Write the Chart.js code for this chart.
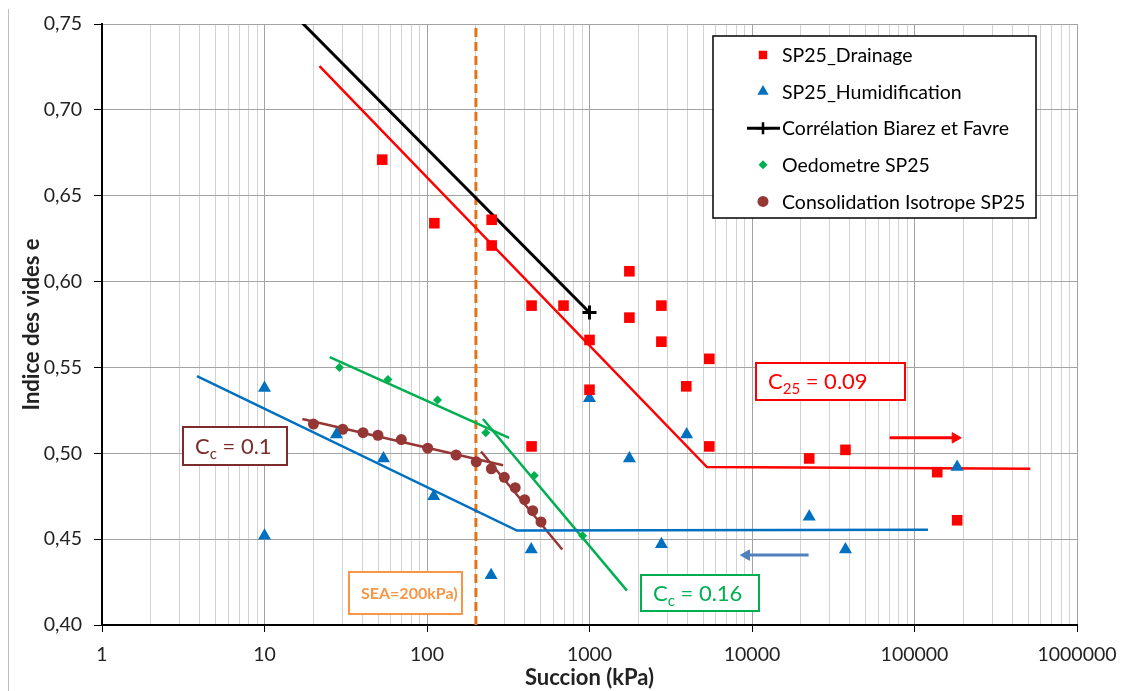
<!DOCTYPE html>
<html lang="fr">
<head>
<meta charset="utf-8">
<title>Indice des vides e - Succion (kPa)</title>
<script src="https://cdn.jsdelivr.net/npm/chart.js@4.4.1/dist/chart.umd.min.js"></script>
<style>
    html, body { margin: 0; padding: 0; background: #fff; }
    #wrap { position: relative; width: 1138px; height: 691px; }
    #wrap::before { content: ''; position: absolute; left: 8px; top: 9px; bottom: 0; border-left: 1px solid #bdbdbd; }
    canvas { position: relative; }
</style>
</head>
<body>
<div id="wrap"><canvas id="chart" width="1138" height="691"></canvas></div>
<script>
// Données (succion en kPa, indice des vides e)
const drainageSuction = [53, 111, 250, 250, 440, 692, 1000, 1000, 440, 1760, 1760, 2770, 2770, 3940, 5460, 5460, 22500, 37600, 138000, 183000];
const drainageE = [0.671, 0.634, 0.636, 0.621, 0.586, 0.586, 0.566, 0.537, 0.504, 0.606, 0.579, 0.586, 0.565, 0.539, 0.555, 0.504, 0.497, 0.502, 0.489, 0.461];

const humidSuction = [10, 10, 27.7, 54, 110, 248, 438, 1000, 1760, 2770, 3960, 22500, 37600, 183000];
const humidE = [0.538, 0.452, 0.511, 0.497, 0.475, 0.429, 0.444, 0.532, 0.497, 0.447, 0.511, 0.463, 0.444, 0.492];

const biarezSuction = [15, 1000];
const biarezE = [0.756, 0.582];

const oedoSuction = [28.9, 57.5, 116, 230, 457, 907];
const oedoE = [0.550, 0.543, 0.531, 0.512, 0.487, 0.452];

const consoSuction = [20, 30.3, 40.4, 49.9, 69.5, 101, 151, 201, 249, 299, 349, 399, 447, 503];
const consoE = [0.517, 0.514, 0.512, 0.5105, 0.508, 0.503, 0.499, 0.495, 0.491, 0.486, 0.480, 0.473, 0.4666, 0.460];

// Droites d'ajustement
const drainageFitSuction = [21.8, 5280, 516000];
const drainageFitE = [0.7255, 0.492, 0.491];
const humidFitSuction = [3.84, 358, 121000];
const humidFitE = [0.545, 0.455, 0.4555];
const oedoFit1Suction = [25.2, 320];
const oedoFit1E = [0.556, 0.509];
const oedoFit2Suction = [221, 1700];
const oedoFit2E = [0.520, 0.420];
const consoFit1Suction = [17.1, 294];
const consoFit1E = [0.520, 0.493];
const consoFit2Suction = [215, 680];
const consoFit2E = [0.501, 0.444];

// Succion d'entrée d'air et flèches
const seaSuction = [200, 200];
const seaE = [0.40, 0.75];
const redArrowSuction = [70300, 178000];
const redArrowE = [0.509, 0.509];
const blueArrowSuction = [9250, 22300];
const blueArrowE = [0.4407, 0.4407];

// Axes
const xTickLabels = ['1', '10', '100', '1000', '10000', '100000', '1000000'];
const yMin = 0.40, yMax = 0.75, yStep = 0.05;

const FONT = 'Lato, "Open Sans", sans-serif';
const colors = {
    red: '#ff0000',
    blue: '#0070c0',
    steel: '#4f81bd',
    green: '#00b050',
    brown: '#953735',
    brownDark: '#7b2d2d',
    orange: '#e3731b',
    orangeLight: '#f79646',
    black: '#000000'
};

function toPoints(xs, ys) {
    return xs.map((v, i) => ({ x: v, y: ys[i] }));
}

function isDecade(v) {
    const l = Math.log10(v);
    return Math.abs(l - Math.round(l)) < 1e-9;
}

function lineSet(label, xs, ys, color, width, extra) {
    return Object.assign({
        label: label,
        data: toPoints(xs, ys),
        showLine: true,
        borderColor: color,
        backgroundColor: color,
        borderWidth: width,
        pointRadius: 0,
        order: 2
    }, extra || {});
}

function markerSet(label, xs, ys, color, style, radius) {
    return {
        label: label,
        data: toPoints(xs, ys),
        showLine: false,
        pointStyle: style,
        pointRadius: radius,
        pointBackgroundColor: color,
        pointBorderColor: color,
        pointBorderWidth: 0,
        order: 0
    };
}

const datasets = [
    lineSet('fit-drainage', drainageFitSuction, drainageFitE, colors.red, 2.5),
    lineSet('fit-humid', humidFitSuction, humidFitE, colors.blue, 2.5),
    lineSet('fit-oedo-1', oedoFit1Suction, oedoFit1E, colors.green, 2.5),
    lineSet('fit-oedo-2', oedoFit2Suction, oedoFit2E, colors.green, 2.5),
    lineSet('fit-conso-1', consoFit1Suction, consoFit1E, colors.brown, 2.5),
    lineSet('fit-conso-2', consoFit2Suction, consoFit2E, colors.brown, 2.5),
    lineSet('SEA', seaSuction, seaE, colors.orange, 3, { borderDash: [9, 5], order: 3 }),
    lineSet('arrow-red', redArrowSuction, redArrowE, colors.red, 3, {
        pointStyle: 'triangle', pointRadius: [0, 6], pointRotation: [0, 90], pointBorderWidth: 1
    }),
    lineSet('arrow-blue', blueArrowSuction, blueArrowE, colors.steel, 3, {
        pointStyle: 'triangle', pointRadius: [6, 0], pointRotation: [-90, 0], pointBorderWidth: 1
    }),
    markerSet('SP25_Drainage', drainageSuction, drainageE, colors.red, 'rect', 7.5),
    markerSet('SP25_Humidification', humidSuction, humidE, colors.blue, 'triangle', 7.5),
    lineSet('Corrélation Biarez et Favre', biarezSuction, biarezE, colors.black, 3, {
        pointStyle: 'cross', pointRadius: [0, 7], pointBorderWidth: 3, order: 1
    }),
    markerSet('Oedometre SP25', oedoSuction, oedoE, colors.green, 'rectRot', 4.5),
    markerSet('Consolidation Isotrope SP25', consoSuction, consoE, colors.brown, 'circle', 5.5)
];

// Encadrés de texte (coin haut-gauche / bas-droit en coordonnées des axes)
const annotations = [
    { main: 'C', sub: 'c', rest: ' = 0.1', x: [3.16, 13.8], y: [0.5153, 0.4932], color: colors.brownDark, size: 22 },
    { main: 'SEA=200kPa)', sub: '', rest: '', x: [33.2, 165], y: [0.4308, 0.4064], color: colors.orangeLight, size: 16, bold: true },
    { main: 'C', sub: 'c', rest: ' = 0.16', x: [2075, 10980], y: [0.4291, 0.4081], color: colors.green, size: 22 },
    { main: 'C', sub: '25', rest: ' = 0.09', x: [10580, 87700], y: [0.5526, 0.531], color: colors.red, size: 22 }
];

// Légende
const legendItems = [
    { label: 'SP25_Drainage', style: 'rect', radius: 6, color: colors.red },
    { label: 'SP25_Humidification', style: 'triangle', radius: 6.5, color: colors.blue },
    { label: 'Corrélation Biarez et Favre', style: 'cross', radius: 6, color: colors.black, line: true },
    { label: 'Oedometre SP25', style: 'rectRot', radius: 4.5, color: colors.green },
    { label: 'Consolidation Isotrope SP25', style: 'circle', radius: 5.5, color: colors.brown }
];

function drawMarker(ctx, style, radius, x, y, width) {
    if (Chart.helpers && Chart.helpers.drawPoint) {
        Chart.helpers.drawPoint(ctx, { pointStyle: style, radius: radius, rotation: 0, borderWidth: width || 0 }, x, y);
    }
}

const overlayPlugin = {
    id: 'overlay',
    afterDatasetsDraw(chart) {
        const { ctx } = chart;
        const xs = chart.scales.x, ys = chart.scales.y;
        annotations.forEach(a => {
            const left = Math.round(xs.getPixelForValue(a.x[0]));
            const right = Math.round(xs.getPixelForValue(a.x[1]));
            const top = Math.round(ys.getPixelForValue(a.y[0]));
            const bottom = Math.round(ys.getPixelForValue(a.y[1]));
            ctx.save();
            ctx.fillStyle = '#ffffff';
            ctx.fillRect(left, top, right - left, bottom - top);
            ctx.strokeStyle = a.color;
            ctx.lineWidth = 2;
            ctx.strokeRect(left, top, right - left, bottom - top);
            ctx.fillStyle = a.color;
            ctx.textBaseline = 'alphabetic';
            const weight = a.bold ? 'bold ' : '';
            const base = (top + bottom) / 2 + a.size * 0.36;
            let cx = left + 12;
            ctx.font = weight + a.size + 'px ' + FONT;
            ctx.fillText(a.main, cx, base);
            cx += ctx.measureText(a.main).width;
            if (a.sub) {
                ctx.font = weight + Math.round(a.size * 0.68) + 'px ' + FONT;
                ctx.fillText(a.sub, cx, base + a.size * 0.22);
                cx += ctx.measureText(a.sub).width;
            }
            if (a.rest) {
                ctx.font = weight + a.size + 'px ' + FONT;
                ctx.fillText(a.rest, cx, base);
            }
            ctx.restore();
        });
    },
    afterDraw(chart) {
        const { ctx } = chart;
        const box = { left: 713, top: 36, right: 1036, bottom: 218 };
        ctx.save();
        ctx.fillStyle = '#ffffff';
        ctx.fillRect(box.left, box.top, box.right - box.left, box.bottom - box.top);
        ctx.strokeStyle = '#000000';
        ctx.lineWidth = 1.5;
        ctx.strokeRect(box.left, box.top, box.right - box.left, box.bottom - box.top);
        ctx.font = '19.5px ' + FONT;
        ctx.textBaseline = 'middle';
        legendItems.forEach((item, i) => {
            const y = 55 + i * 36.6;
            ctx.fillStyle = item.color;
            ctx.strokeStyle = item.color;
            if (item.line) {
                ctx.lineWidth = 3;
                ctx.beginPath();
                ctx.moveTo(747, y);
                ctx.lineTo(780, y);
                ctx.stroke();
                ctx.lineWidth = 2.5;
                drawMarker(ctx, item.style, item.radius, 763, y, 2.5);
            } else {
                drawMarker(ctx, item.style, item.radius, 763, y, 0);
            }
            ctx.fillStyle = '#000000';
            ctx.fillText(item.label, 782, y + 1);
        });
        ctx.restore();
    }
};

new Chart(document.getElementById('chart'), {
    type: 'scatter',
    data: { datasets: datasets },
    options: {
        responsive: false,
        animation: false,
        layout: { padding: { left: 10, right: 61, top: 24, bottom: 0 } },
        plugins: {
            legend: { display: false },
            tooltip: { enabled: false }
        },
        scales: {
            x: {
                type: 'logarithmic',
                min: 1,
                max: 1e6,
                afterBuildTicks(scale) {
                    const ticks = [];
                    for (let d = 0; d < xTickLabels.length - 1; d++) {
                        for (let m = 1; m < 10; m++) ticks.push({ value: m * Math.pow(10, d) });
                    }
                    ticks.push({ value: Math.pow(10, xTickLabels.length - 1) });
                    scale.ticks = ticks;
                },
                afterFit(scale) { scale.height = 66; },
                grid: {
                    color: c => (c.tick && isDecade(c.tick.value)) ? '#a3a3a3' : '#d2d2d2',
                    tickColor: c => (c.tick && isDecade(c.tick.value)) ? '#000000' : 'rgba(0,0,0,0)',
                    tickLength: 7,
                    lineWidth: 1
                },
                border: { color: '#000000', width: 2 },
                ticks: {
                    autoSkip: false,
                    maxRotation: 0,
                    padding: 11,
                    color: '#222222',
                    font: { family: FONT, size: 19.5 },
                    callback: v => isDecade(v) ? xTickLabels[Math.round(Math.log10(v))] : ''
                },
                title: {
                    display: true,
                    text: 'Succion (kPa)',
                    color: '#222222',
                    font: { family: FONT, size: 22, weight: 'bold' },
                    padding: { top: 0, bottom: 0 }
                }
            },
            y: {
                min: yMin,
                max: yMax,
                afterFit(scale) { scale.width = 92; },
                grid: {
                    color: '#a3a3a3',
                    tickColor: '#000000',
                    tickLength: 8,
                    lineWidth: 1
                },
                border: { color: '#000000', width: 2 },
                ticks: {
                    stepSize: yStep,
                    padding: 12,
                    color: '#222222',
                    font: { family: FONT, size: 19.5 },
                    callback: v => v.toFixed(2).replace('.', ',')
                },
                title: {
                    display: true,
                    text: 'Indice des vides e',
                    color: '#222222',
                    font: { family: FONT, size: 22, weight: 'bold' },
                    padding: { top: 9, bottom: 0 }
                }
            }
        }
    },
    plugins: [overlayPlugin]
});
</script>
</body>
</html>
